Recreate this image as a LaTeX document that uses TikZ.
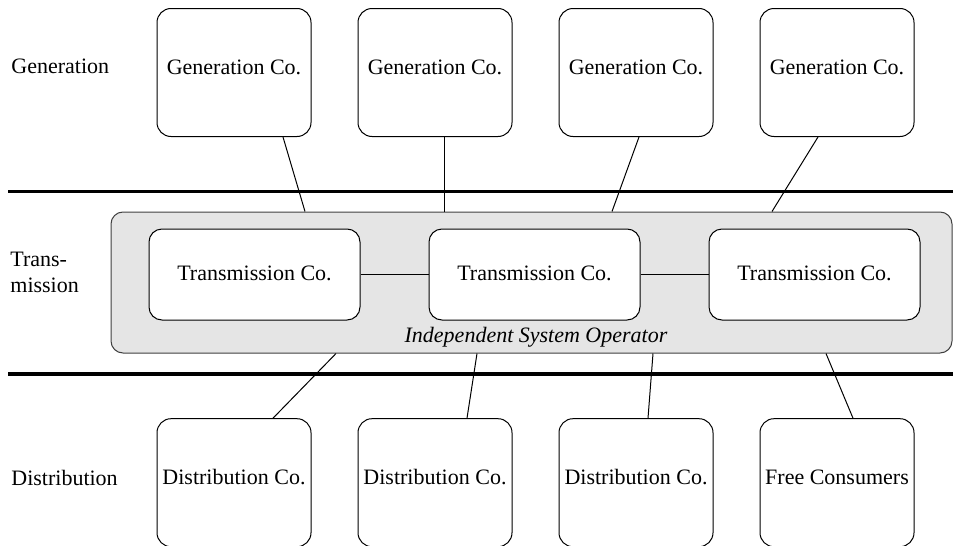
\documentclass[tikz,border=0pt]{standalone}
\usepackage{fontspec}
\setmainfont{Liberation Serif}
\usepackage{tikz}
\usetikzlibrary{calc}

\begin{document}
\begin{tikzpicture}[x=0.5pt,y=-0.5pt,font=\fontsize{11}{13}\selectfont,
  cobox/.style={draw,line width=0.5pt,rounded corners=7pt,fill=white,minimum width=77pt,minimum height=64pt,inner sep=0pt,text height=7.3pt,text depth=5.5pt},
  trbox/.style={cobox,rounded corners=6.5pt,minimum width=105.5pt,minimum height=45.5pt,text depth=1.5pt},
  isobox/.style={draw=black!75,line width=0.5pt,fill=black!10,rounded corners=6pt,minimum width=420.5pt,minimum height=70.5pt,inner sep=0pt},
  layer/.style={anchor=west,align=left,inner sep=0pt},
  sep/.style={line width=1.6pt},
  link/.style={line width=0.5pt}]
\useasboundingbox (0,0) rectangle (953,546);
\node[isobox] (iso) at (531.5,282.5) {};
\node[anchor=base] (isolabel) at (536,342) {\itshape Independent System Operator};
\draw[sep] (8,191.7) -- (953,191.7);
\draw[sep] (8,374) -- (953,374);
\node[layer,text height=7.3pt,text depth=0pt] (lgen) at (11,66.5) {Generation};
\node[layer] (ltrans) at (10,272.5) {Trans-\\mission};
\node[layer,text height=7.3pt,text depth=0pt] (ldist) at (11,478) {Distribution};
\foreach \i/\x in {1/234,2/435,3/636,4/837} {
   \node[cobox] (gen\i) at (\x,72.5) {Generation Co.};
}
\foreach \i/\x/\t in %
{1/234/Distribution Co.,2/435/Distribution Co.,3/636/Distribution Co.,4/837/Free Consumers} {
   \node[cobox] (dist\i) at (\x,482.7) {\t};
}
\foreach \i/\x in {1/254.5,2/534.5,3/814.5} {
   \node[trbox] (tr\i) at (\x,274.5) {Transmission Co.};
}
\draw[link] (tr1.east) -- (tr2.west);
\draw[link] (tr2.east) -- (tr3.west);
\foreach \i/\a/\b in {1/49/-226.5,2/9/-87.5,3/3/80.5,4/-19/240.5} {
   \draw[link] ($(gen\i.south)+(\a,0)$) -- ($(iso.north)+(\b,0)$);
}
\foreach \i/\a/\b in {1/39/-195.5,2/32/-54.5,3/12/121.5,4/16/294.5} {
   \draw[link] ($(dist\i.north)+(\a,0)$) -- ($(iso.south)+(\b,0)$);
}
\end{tikzpicture}
\end{document}
